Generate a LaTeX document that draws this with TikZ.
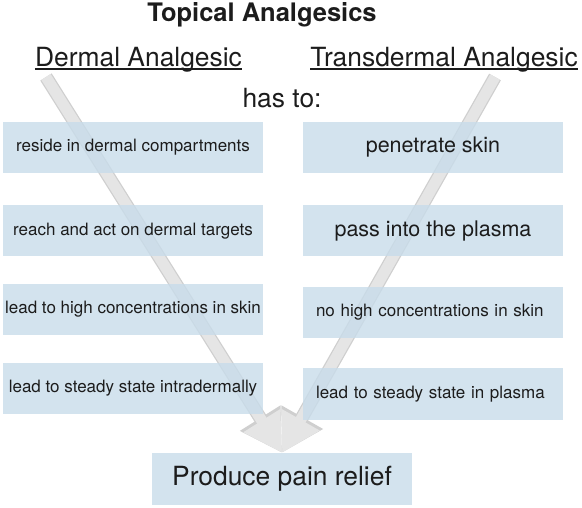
\documentclass[tikz,border=0pt]{standalone}
\usepackage{fontspec}
\setmainfont{TeX Gyre Heros}
\usepackage{xcolor}
\usetikzlibrary{arrows.meta}
\definecolor{boxblue}{RGB}{200,220,234}
\definecolor{inkgray}{RGB}{28,28,28}

\begin{document}
\begin{tikzpicture}[x=1pt, y=-1pt,
  box/.style={fill=boxblue, fill opacity=0.8, text opacity=1, text=inkgray,
              minimum width=260pt, minimum height=51pt, inner sep=0pt,
              font=\fontsize{17}{20}\selectfont},
  big/.style={font=\fontsize{21.5}{24}\selectfont},
  lft/.style={text width=234pt, align=left},
  head/.style={inner sep=0pt, anchor=base, text=inkgray,
               font=\fontsize{26.4}{30}\selectfont},
  uline/.style={line width=1.3pt, inkgray},
  flowrim/.style={line width=13.5pt, draw=gray!38, -{Triangle[length=41pt, width=45pt]}},
  flow/.style={line width=11pt, draw=gray!20, -{Triangle[length=38pt, width=41pt]}}
]
  \useasboundingbox (0,0) rectangle (582,508);
  % headings
  \node[head, font=\bfseries\fontsize{25.5}{28}\selectfont] (title) at (262,22) {Topical Analgesics};
  \node[head] (dermal) at (138.5,67) {Dermal Analgesic};
  \node[head] (trans) at (444,67) {Transdermal Analgesic};
  \draw[uline] ([yshift=-2pt]dermal.base west) -- ([yshift=-2pt]dermal.base east);
  \draw[uline] ([yshift=-2pt]trans.base west) -- ([yshift=-2pt]trans.base east);
  \node[head] (hasto) at (282,108) {has to:};

  % goal box, then the two arrows running into it
  \node[box, font=\fontsize{26.4}{30}\selectfont, minimum height=52pt] (relief) at (282,479) {Produce pain relief};
  \coordinate (ltop) at (46,77);
  \coordinate (rtop) at (495,77);
  \draw[flowrim] (ltop) -- (relief.north);
  \draw[flowrim] (rtop) -- (relief.north);
  \draw[flow] (ltop) -- (relief.north);
  \draw[flow] (rtop) -- (relief.north);

  % left column: dermal
  \node[box] (d1) at (133,147.5) {reside in dermal compartments};
  \node[box] (d2) at (133,231) {reach and act on dermal targets};
  \node[box] (d3) at (133,309.5) {lead to high concentrations in skin};
  \node[box] (d4) at (133,388.5) {lead to steady state intradermally};

  % right column: transdermal
  \node[box, big] (t1) at (433,147.5) {penetrate skin};
  \node[box, big] (t2) at (433,231) {pass into the plasma};
  \node[box, lft] (t3) at (433,312.5) {no high concentrations in skin};
  \node[box, lft] (t4) at (433,394) {lead to steady state in plasma};
\end{tikzpicture}
\end{document}
